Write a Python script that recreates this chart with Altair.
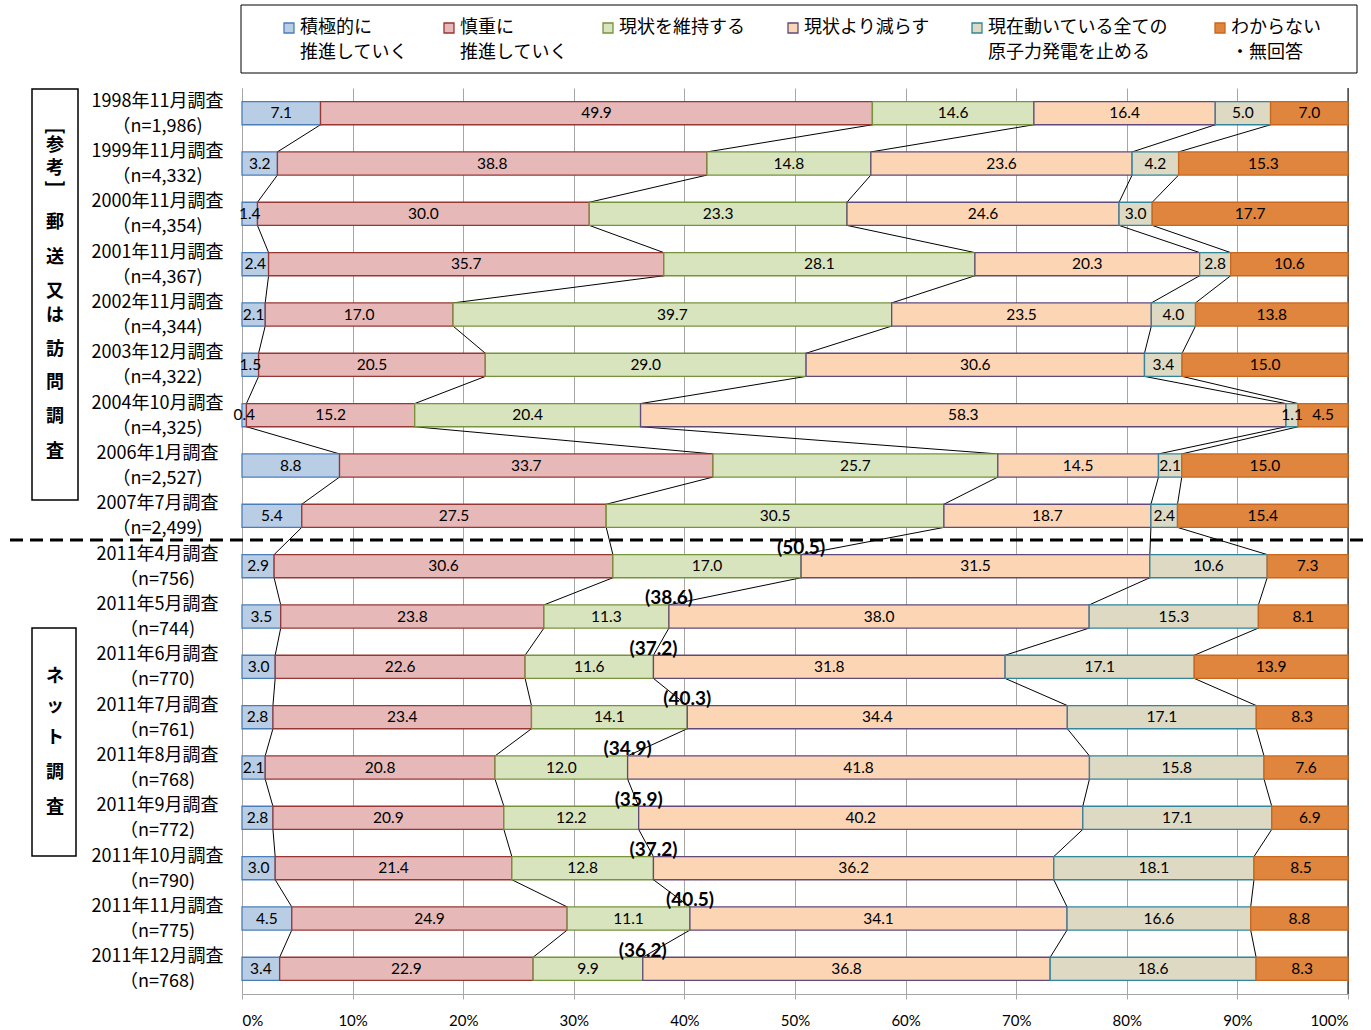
import altair as alt
import pandas as pd
import json

categories = ["積極的に|推進していく", "慎重に|推進していく", "現状を維持する", "現状より減らす",
              "現在動いている全ての|原子力発電を止める", "わからない|・無回答"]
fills = ["#B9CDE5", "#E6B9B8", "#D7E4BD", "#FCD5B5", "#DDD9C3", "#DF853E"]
strokes = ["#4A7EBB", "#953735", "#77933C", "#604A7B", "#31859C", "#C8681E"]

surveys = ["1998年11月調査|（n=1,986)", "1999年11月調査|（n=4,332)", "2000年11月調査|（n=4,354)",
           "2001年11月調査|（n=4,367)", "2002年11月調査|（n=4,344)", "2003年12月調査|（n=4,322)",
           "2004年10月調査|（n=4,325)", "2006年1月調査|（n=2,527)", "2007年7月調査|（n=2,499)",
           "2011年4月調査|（n=756)", "2011年5月調査|（n=744)", "2011年6月調査|（n=770)",
           "2011年7月調査|（n=761)", "2011年8月調査|（n=768)", "2011年9月調査|（n=772)",
           "2011年10月調査|（n=790)", "2011年11月調査|（n=775)", "2011年12月調査|（n=768)"]

s1 = [7.1, 3.2, 1.4, 2.4, 2.1, 1.5, 0.4, 8.8, 5.4, 2.9, 3.5, 3.0, 2.8, 2.1, 2.8, 3.0, 4.5, 3.4]
s2 = [49.9, 38.8, 30.0, 35.7, 17.0, 20.5, 15.2, 33.7, 27.5, 30.6, 23.8, 22.6, 23.4, 20.8, 20.9, 21.4, 24.9, 22.9]
s3 = [14.6, 14.8, 23.3, 28.1, 39.7, 29.0, 20.4, 25.7, 30.5, 17.0, 11.3, 11.6, 14.1, 12.0, 12.2, 12.8, 11.1, 9.9]
s4 = [16.4, 23.6, 24.6, 20.3, 23.5, 30.6, 58.3, 14.5, 18.7, 31.5, 38.0, 31.8, 34.4, 41.8, 40.2, 36.2, 34.1, 36.8]
s5 = [5.0, 4.2, 3.0, 2.8, 4.0, 3.4, 1.1, 2.1, 2.4, 10.6, 15.3, 17.1, 17.1, 15.8, 17.1, 18.1, 16.6, 18.6]
s6 = [7.0, 15.3, 17.7, 10.6, 13.8, 15.0, 4.5, 15.0, 15.4, 7.3, 8.1, 13.9, 8.3, 7.6, 6.9, 8.5, 8.8, 8.3]
series = [s1, s2, s3, s4, s5, s6]
net_start = 9  # first internet survey row

side_chars = ["参", "考", "郵", "送", "又", "は", "訪", "問", "調", "査",
              "ネ", "ッ", "ト", "調", "査"]
side_brackets = ["[", "]"]

# layout (pixels relative to plot origin)
legend_sym_x = [47, 207, 366, 551, 735, 978]
side_char_y = [58, 81, 135, 170, 204, 228, 262, 295, 329, 364,
               589, 619, 650, 685, 720]
side_bracket_y = [43, 96]
HALF = 0.23
FONT = "Lato, 'Noto Sans CJK JP', sans-serif"
JFONT = "'Noto Sans CJK JP', sans-serif"

# build tables
bar_rows = []
cums = []
for i in range(len(surveys)):
    vals = [s[i] for s in series]
    tot = sum(vals)
    c = 0.0
    bounds = []
    for k, v in enumerate(vals):
        start = c / tot * 100
        c += v
        end = c / tot * 100
        bounds.append(end)
        bar_rows.append({"row": i, "cat": categories[k], "start": start, "end": end,
                         "mid": (start + end) / 2, "label": f"{v:.1f}",
                         "ytop": i - HALF, "ybot": i + HALF})
    cums.append(bounds)
bars = pd.DataFrame(bar_rows)

conn_rows = []
for i in range(len(surveys) - 1):
    for k in range(5):
        conn_rows.append({"x": cums[i][k], "x2": cums[i + 1][k],
                          "y": i + HALF, "y2": i + 1 - HALF})
conns = pd.DataFrame(conn_rows)

sum_rows = []
for i in range(net_start, len(surveys)):
    tot3 = s1[i] + s2[i] + s3[i]
    sum_rows.append({"x": cums[i][2], "y": i - HALF - 0.13, "t": f"({tot3:.1f})"})
sums = pd.DataFrame(sum_rows)

leg = pd.DataFrame({"cat": categories, "px": legend_sym_x,
                    "tx": [p + 11 for p in legend_sym_x]})
side = pd.DataFrame({"c": side_chars, "py": side_char_y})
brk = pd.DataFrame({"c": side_brackets, "py": side_bracket_y})

ysc = alt.Scale(domain=[-0.5, len(surveys) - 0.5], reverse=True, nice=False, zero=False)
xsc = alt.Scale(domain=[0, 100], nice=False)
fill_sc = alt.Scale(domain=categories, range=fills)
stroke_sc = alt.Scale(domain=categories, range=strokes)
label_arr = json.dumps(surveys, ensure_ascii=False)

base = alt.Chart(bars)

bar_layer = base.mark_bar(strokeWidth=1.3, opacity=1).encode(
    x=alt.X("start:Q", scale=xsc, title=None,
            axis=alt.Axis(values=list(range(0, 101, 10)), labelExpr="datum.value + '%'",
                          grid=True, gridColor="#A6A6A6", domainColor="#A6A6A6",
                          tickColor="#A6A6A6", tickSize=5, labelPadding=14, labelFontSize=15,
                          labelFont=FONT, labelColor="#000")),
    x2="end:Q",
    y=alt.Y("ytop:Q", scale=ysc, title=None,
            axis=alt.Axis(values=list(range(len(surveys))),
                          labelExpr=f"split({label_arr}[datum.value], '|')",
                          grid=False, ticks=False, domainColor="#A6A6A6", labelAlign="center",
                          labelPadding=85, labelFontSize=18, labelLineHeight=25, labelOffset=-12,
                          labelFont=JFONT, labelColor="#000", labelBaseline="middle")),
    y2="ybot:Q",
    fill=alt.Fill("cat:N", scale=fill_sc, legend=None),
    stroke=alt.Stroke("cat:N", scale=stroke_sc, legend=None),
)

bar_text = base.mark_text(fontSize=15.5, font=FONT, color="#000", baseline="middle").encode(
    x=alt.X("mid:Q", scale=xsc),
    y=alt.Y("row:Q", scale=ysc),
    text="label:N",
)

conn_layer = alt.Chart(conns).mark_rule(color="#000", strokeWidth=1).encode(
    x=alt.X("x:Q", scale=xsc), x2="x2:Q",
    y=alt.Y("y:Q", scale=ysc), y2="y2:Q",
)

sum_layer = alt.Chart(sums).mark_text(fontSize=19, fontWeight="bold", font=FONT, color="#000",
                                      baseline="middle").encode(
    x=alt.X("x:Q", scale=xsc),
    y=alt.Y("y:Q", scale=ysc),
    text="t:N",
)

# legend built from the category list
leg_sym = alt.Chart(leg).mark_square(size=100, strokeWidth=1.3, opacity=1).encode(
    x=alt.X("px:Q", scale=None), y=alt.value(-60),
    fill=alt.Fill("cat:N", scale=fill_sc, legend=None),
    stroke=alt.Stroke("cat:N", scale=stroke_sc, legend=None),
)
leg_txt = alt.Chart(leg).mark_text(fontSize=18, font=JFONT, color="#000", align="left",
                                   baseline="middle", lineBreak="|", lineHeight=25).encode(
    x=alt.X("tx:Q", scale=None), y=alt.value(-60), text="cat:N",
)

one = pd.DataFrame({"a": [0]})

right_edge = alt.Chart(one).mark_rule(color="#000", strokeWidth=1).encode(
    x=alt.value(1106), y=alt.value(0), y2=alt.value(906))

dash = alt.Chart(one).mark_rule(color="#000", strokeWidth=3, strokeDash=[13, 7]).encode(
    x=alt.value(-232), x2=alt.value(1123), y=alt.value(452), y2=alt.value(452))

legend_box = alt.Chart(one).mark_rect(fill="transparent", stroke="#000", strokeWidth=1).encode(
    x=alt.value(-1), x2=alt.value(1115), y=alt.value(-83), y2=alt.value(-15))

box1 = alt.Chart(one).mark_rect(fill="transparent", stroke="#000", strokeWidth=1.5).encode(
    x=alt.value(-210), x2=alt.value(-164), y=alt.value(1), y2=alt.value(412))
box2 = alt.Chart(one).mark_rect(fill="transparent", stroke="#000", strokeWidth=1.5).encode(
    x=alt.value(-210), x2=alt.value(-166), y=alt.value(540), y2=alt.value(768))

side_txt = alt.Chart(side).mark_text(fontSize=18, fontWeight="bold", font=JFONT, color="#000",
                                     baseline="middle", align="center").encode(
    x=alt.value(-187), y=alt.Y("py:Q", scale=None), text="c:N")

side_brk = alt.Chart(brk).mark_text(fontSize=20, fontWeight="bold", font="Lato, sans-serif",
                                    color="#000", baseline="middle", align="center",
                                    angle=90).encode(
    x=alt.value(-187), y=alt.Y("py:Q", scale=None), text="c:N")

chart = alt.layer(legend_box, right_edge, conn_layer, bar_layer, bar_text, sum_layer, leg_sym,
                  leg_txt, dash, box1, box2, side_txt, side_brk).properties(
    width=1106, height=906,
    autosize=alt.AutoSizeParams(type="none"),
    padding={"left": 242, "top": 88, "right": 23, "bottom": 36},
).configure_view(stroke=None)

chart.save("out.html", embed_options={"renderer": "svg", "actions": False})
